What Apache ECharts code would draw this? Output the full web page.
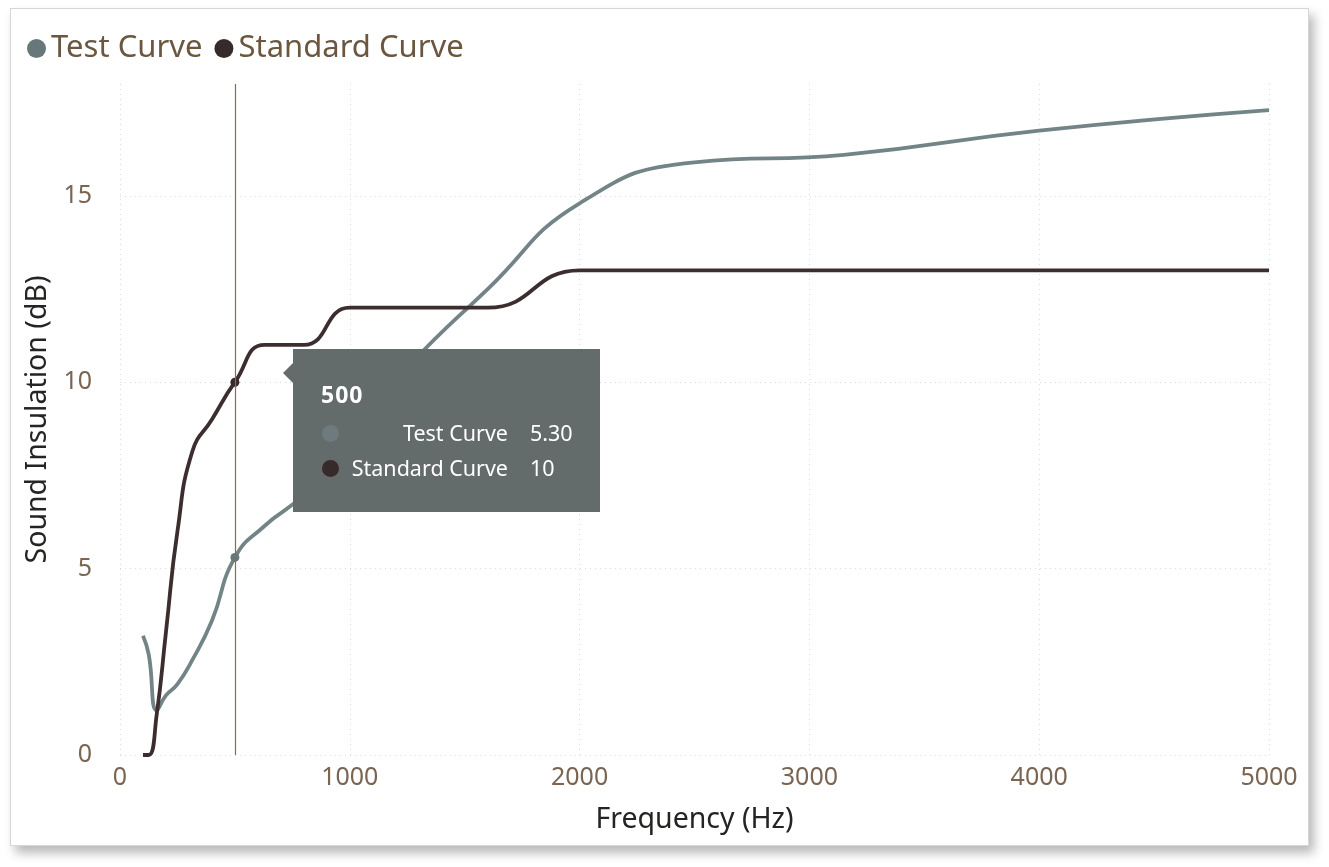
<!DOCTYPE html>
<html>
<head>
<meta charset="utf-8">
<script src="https://cdn.jsdelivr.net/npm/echarts@6/dist/echarts.min.js"></script>
<style>
  html, body { margin:0; padding:0; background:#ffffff; width:1329px; height:867px; overflow:hidden; }
  #card { position:absolute; left:10px; top:8px; width:1297px; height:836px; background:#fff;
          border:1px solid #d6d6d6; box-shadow: 5px 7px 10px rgba(0,0,0,0.28); }
  #chart { position:absolute; left:0; top:0; width:1329px; height:867px; }
</style>
</head>
<body>
<div id="card"></div>
<div id="chart"></div>
<script>
const seriesNames = ['Test Curve', 'Standard Curve'];
const freqs = [100, 125, 160, 200, 250, 315, 400, 500, 630, 800, 1000, 1250, 1600, 2000, 2500, 3150, 4000, 5000];
const testCurve = [3.2, 2.7, 1.2, 1.6, 1.9, 2.55, 3.6, 5.3, 6.15, 7.0, 8.6, 10.4, 12.5, 14.8, 15.9, 16.1, 16.75, 17.3];
const standardCurve = [0, 0, 1.1, 3.3, 6.0, 8.15, 9.0, 10, 11, 11, 12, 12, 12, 13, 13, 13, 13, 13];
const xTicks = [0, 1000, 2000, 3000, 4000, 5000];
const yTicks = [0, 5, 10, 15];
const tooltipFreq = 500;

const colors = ['#68787a', '#372a2b'];
const font = "'Noto Sans', 'Open Sans', sans-serif";

const chart = echarts.init(document.getElementById('chart'), null, { renderer: 'canvas' });

function pairs(ys) { return freqs.map((f, i) => [f, ys[i]]); }

const option = {
  animation: false,
  backgroundColor: 'transparent',
  color: colors,
  textStyle: { fontFamily: font },
  legend: {
    left: 22, top: 28,
    icon: 'circle', itemWidth: 19, itemHeight: 19, itemGap: 12,
    textStyle: { fontSize: 31, color: '#6b5640', fontFamily: font },
    data: seriesNames
  },
  grid: { left: 120, right: 60, top: 84, bottom: 112 },
  tooltip: {
    trigger: 'axis',
    triggerOn: 'none',
    alwaysShowContent: true,
    transitionDuration: 0,
    backgroundColor: '#646b6b',
    borderWidth: 0,
    padding: 0,
    extraCssText: 'border-radius:0;box-shadow:none;overflow:visible;',
    position: [293, 349],
    axisPointer: { type: 'line', lineStyle: { color: '#8a6a54', width: 1.2, type: 'solid' }, label: { show: false } },
    formatter: function (params) {
      const idx = params[0].dataIndex;
      const rowsTop = [84, 119];
      let html = '<div style="position:relative;width:307px;height:163px;font-family:' + font.replace(/'/g, '&quot;') + ';color:#fff;">';
      html += '<div style="position:absolute;left:-10px;top:14px;width:0;height:0;border-top:10px solid transparent;border-bottom:10px solid transparent;border-right:10px solid #646b6b;"></div>';
      html += '<div style="position:absolute;left:28px;top:32px;font-size:23px;font-weight:bold;line-height:26px;letter-spacing:1px;">' + freqs[idx] + '</div>';
      const vals = [testCurve[idx].toFixed(2), String(standardCurve[idx])];
      const markerCols = ['#6e7a7d', '#372a2b'];
      seriesNames.forEach((n, k) => {
        const cy = rowsTop[k];
        html += '<div style="position:absolute;left:29px;top:' + (cy - 8) + 'px;width:17px;height:17px;border-radius:50%;background:' + markerCols[k] + ';"></div>';
        html += '<div style="position:absolute;right:92px;top:' + (cy - 15) + 'px;font-size:21.5px;line-height:30px;white-space:nowrap;">' + n + '</div>';
        html += '<div style="position:absolute;left:237px;top:' + (cy - 15) + 'px;font-size:21.5px;line-height:30px;white-space:nowrap;">' + vals[k] + '</div>';
      });
      html += '</div>';
      return html;
    }
  },
  xAxis: {
    type: 'value', min: 0, max: 5000, interval: 1000,
    name: 'Frequency (Hz)', nameLocation: 'middle', nameGap: 50,
    nameTextStyle: { fontSize: 28.5, color: '#252423', fontFamily: font },
    axisLine: { show: false }, axisTick: { show: false },
    axisLabel: { fontSize: 25, color: '#7a6552', margin: 10,
      formatter: v => xTicks.includes(v) ? String(v) : '' },
    splitLine: { show: true, lineStyle: { color: '#dcdcdc', type: [1, 4], width: 1 } }
  },
  yAxis: {
    type: 'value', min: 0, max: 18, interval: 5,
    name: 'Sound Insulation (dB)', nameLocation: 'middle', nameGap: 68,
    nameTextStyle: { fontSize: 28.5, color: '#252423', fontFamily: font },
    axisLine: { show: false }, axisTick: { show: false },
    axisLabel: { fontSize: 25, color: '#7a6552', margin: 28, showMaxLabel: false,
      formatter: v => yTicks.includes(v) ? String(v) : '' },
    splitLine: { show: true, showMaxLine: false, lineStyle: { color: '#dcdcdc', type: [1, 4], width: 1 } }
  },
  series: [
    {
      name: seriesNames[0], type: 'line', data: pairs(testCurve),
      smooth: 0.5,
      showSymbol: false, symbol: 'circle', symbolSize: 9,
      lineStyle: { width: 3.8, color: colors[0] }, itemStyle: { color: colors[0] },
      emphasis: { scale: false, lineStyle: { width: 3.8 } }
    },
    {
      name: seriesNames[1], type: 'line', data: pairs(standardCurve),
      smooth: 0.5,
      showSymbol: false, symbol: 'circle', symbolSize: 9,
      lineStyle: { width: 3.8, color: colors[1] }, itemStyle: { color: colors[1] },
      emphasis: { scale: false, lineStyle: { width: 3.8 } }
    }
  ]
};

chart.setOption(option);
chart.dispatchAction({ type: 'showTip', seriesIndex: 0, dataIndex: freqs.indexOf(tooltipFreq) });
</script>
</body>
</html>
